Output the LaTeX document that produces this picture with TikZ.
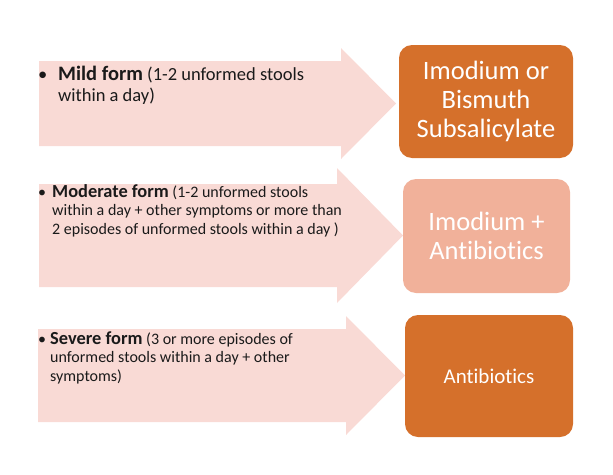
\documentclass[tikz,border=0pt]{standalone}
\usepackage{fontspec}
\setmainfont{Carlito}[Ligatures={NoCommon}]
\definecolor{arrowpink}{HTML}{F9DAD5}
\definecolor{darkorange}{HTML}{D5702B}
\definecolor{lightorange}{HTML}{F1B19A}
\definecolor{textgray}{HTML}{1A1A1A}
\begin{document}
\begin{tikzpicture}[x=1pt,y=-1pt,
  arrowshape/.style={fill=arrowpink,draw=none},
  formtext/.style={anchor=base west,inner sep=0pt,text=textgray},
  treatbox/.style={rounded corners=13pt,draw=none,text=white,align=center,inner sep=0pt}]
\useasboundingbox (0,0) rectangle (613,474);
% arrows
\path[arrowshape] (39,61) -- (341,61) -- (341,48) -- (396,103.5) -- (341,159) -- (341,146) -- (39,146) -- cycle;
\path[arrowshape] (39,184) -- (337,184) -- (337,168) -- (403,235.5) -- (337,303) -- (337,287) -- (39,287) -- cycle;
\path[arrowshape] (38,329) -- (346,329) -- (346,316) -- (405,375.5) -- (346,435) -- (346,422) -- (38,422) -- cycle;
% texts
\node[formtext] (t1) at (38,80) {\parbox[t]{340pt}{\fontsize{18.5}{21}\selectfont\hangindent=20pt\hangafter=1\noindent\makebox[20pt][l]{•}{\fontsize{20.5}{21}\selectfont\textbf{Mild form}} (1-2 unformed stools\\ within a day)}};
\node[formtext] (t2) at (38,197) {\parbox[t]{340pt}{\fontsize{16}{18.5}\selectfont\hangindent=14pt\hangafter=1\noindent\makebox[14pt][l]{•}{\fontsize{18.4}{18.5}\selectfont\textbf{Moderate form}} (1-2 unformed stools\\ within a day + other symptoms or more than\\ 2 episodes of unformed stools within a day )}};
\node[formtext] (t3) at (38,344) {\parbox[t]{340pt}{\fontsize{16}{18.5}\selectfont\hangindent=12pt\hangafter=1\noindent\makebox[12pt][l]{•}{\fontsize{18.4}{18.5}\selectfont\textbf{Severe form}} (3 or more episodes of\\ unformed stools within a day + other\\ symptoms)}};
% boxes
\node[treatbox,fill=darkorange,minimum width=174pt,minimum height=113pt,font=\fontsize{26.5}{29}\selectfont] (b1) at (486,101.5) {Imodium or\\Bismuth\\Subsalicylate};
\node[treatbox,fill=lightorange,minimum width=167pt,minimum height=114pt,font=\fontsize{26.5}{29}\selectfont] (b2) at (486.5,236) {Imodium +\\Antibiotics};
\node[treatbox,fill=darkorange,minimum width=168pt,minimum height=122pt,font=\fontsize{21}{24}\selectfont] (b3) at (489,376) {Antibiotics};
\end{tikzpicture}
\end{document}
